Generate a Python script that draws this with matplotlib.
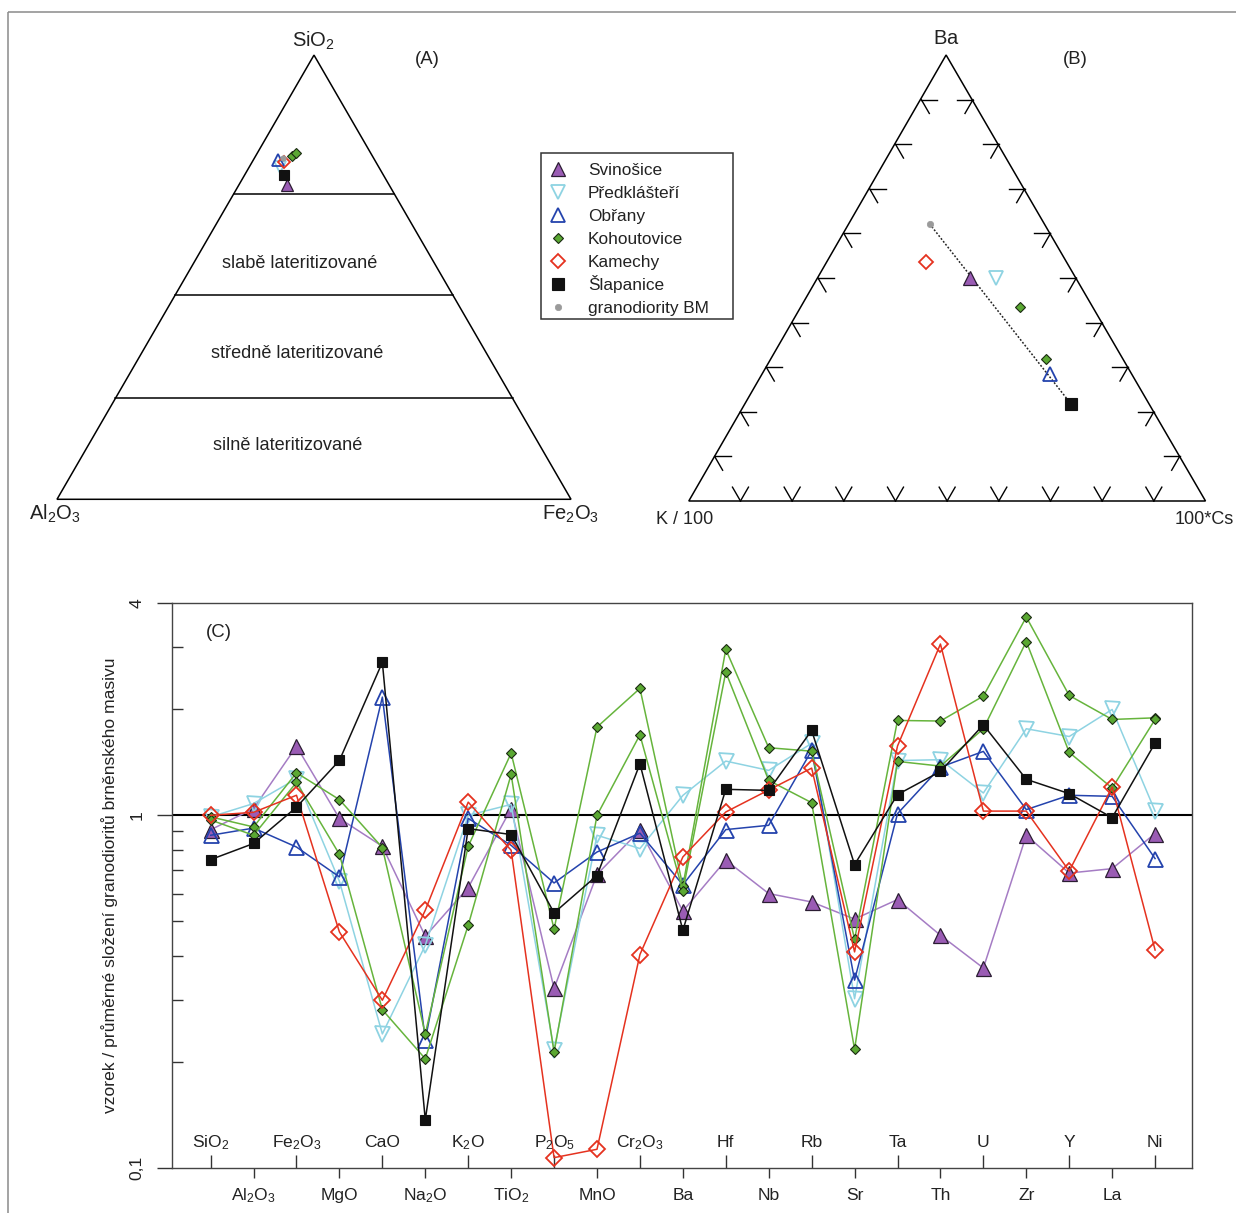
import numpy as np
import matplotlib
matplotlib.use('Agg')
import matplotlib.pyplot as plt
from matplotlib import font_manager
from matplotlib.patches import Rectangle, Polygon
import matplotlib.ticker as mticker
import matplotlib.transforms as mtransforms

avail = {f.name for f in font_manager.fontManager.ttflist}
HAS_NARROW = 'Liberation Sans Narrow' in avail
NARROW = 'Liberation Sans Narrow' if HAS_NARROW else 'Liberation Sans'
REG = 'Liberation Sans'
# narrow-font sizes are scaled down when only the regular width face is present
NS = 1.0 if HAS_NARROW else 0.85
plt.rcParams['font.family'] = [NARROW, 'DejaVu Sans']
plt.rcParams['mathtext.fontset'] = 'custom'
plt.rcParams['mathtext.rm'] = NARROW
plt.rcParams['mathtext.it'] = NARROW
plt.rcParams['mathtext.sf'] = REG

# ---------------- data ----------------
groups = ['Svinošice', 'Předklášteří', 'Obřany', 'Kohoutovice', 'Kamechy', 'Šlapanice', 'granodiority BM']

# (A) ternary SiO2 - Al2O3 - Fe2O3 (fractions)
tA_group = ['Svinošice', 'Předklášteří', 'Obřany', 'Kohoutovice', 'Kohoutovice', 'Kamechy', 'Šlapanice', 'granodiority BM']
tA_sio2 = [0.708, 0.749, 0.764, 0.774, 0.779, 0.759, 0.730, 0.769]
tA_al2o3 = [0.199, 0.192, 0.188, 0.156, 0.146, 0.178, 0.193, 0.175]
tA_fe2o3 = [0.093, 0.059, 0.048, 0.071, 0.075, 0.063, 0.077, 0.056]
zone_sio2 = [0.687, 0.460, 0.227]
zone_names = ['slabě lateritizované', 'středně lateritizované', 'silně lateritizované']

# (B) ternary Ba - K/100 - 100*Cs (fractions)
tB_group = ['granodiority BM', 'Kamechy', 'Svinošice', 'Předklášteří', 'Kohoutovice', 'Kohoutovice', 'Obřany', 'Šlapanice']
tB_ba = [0.6215, 0.535, 0.4996, 0.4996, 0.4339, 0.3188, 0.2857, 0.2184]
tB_k = [0.2233, 0.274, 0.2066, 0.1557, 0.1428, 0.1487, 0.1577, 0.1517]
tB_cs = [0.1552, 0.191, 0.2938, 0.3447, 0.4233, 0.5325, 0.5566, 0.6299]
tB_ticks = [0.1, 0.2, 0.3, 0.4, 0.5, 0.6, 0.7, 0.8, 0.9]

# (C) sample / mean composition of Brno massif granodiorites
categories = ['SiO$_2$', 'Al$_2$O$_3$', 'Fe$_2$O$_3$', 'MgO', 'CaO', 'Na$_2$O', 'K$_2$O', 'TiO$_2$',
              'P$_2$O$_5$', 'MnO', 'Cr$_2$O$_3$', 'Ba', 'Hf', 'Nb', 'Rb', 'Sr', 'Ta', 'Th', 'U', 'Zr',
              'Y', 'La', 'Ni']
svinosice = [0.91, 1.045, 1.57, 0.98, 0.817, 0.454, 0.624, 1.045, 0.323, 0.68, 0.907, 0.535,
             0.746, 0.600, 0.568, 0.508, 0.577, 0.457, 0.369, 0.878, 0.686, 0.706, 0.888]
predklasteri = [0.99, 1.08, 1.27, 0.65, 0.240, 0.428, 1.0, 1.074, 0.216, 0.878, 0.805, 1.139,
                1.425, 1.341, 1.6, 0.302, 1.43, 1.438, 1.157, 1.76, 1.673, 1.996, 1.028]
obrany = [0.878, 0.92, 0.813, 0.669, 2.164, 0.231, 0.98, 0.822, 0.643, 0.787, 0.89, 0.635,
          0.911, 0.937, 1.527, 0.341, 1.011, 1.37, 1.518, 1.038, 1.14, 1.132, 0.754]
kohoutovice_1 = [0.99, 0.927, 1.32, 1.108, 0.81, 0.240, 0.817, 1.501, 0.476, 1.779, 2.29, 0.63,
                 2.954, 1.555, 1.52, 0.445, 1.858, 1.851, 2.178, 3.65, 2.187, 1.87, 1.89]
kohoutovice_2 = [0.97, 0.878, 1.24, 0.775, 0.281, 0.204, 0.488, 1.307, 0.213, 1.0, 1.692, 0.61,
                 2.548, 1.256, 1.086, 0.217, 1.422, 1.379, 1.76, 3.11, 1.508, 1.195, 1.87]
kamechy = [1.0, 1.02, 1.14, 0.467, 0.299, 0.538, 1.09, 0.796, 0.107, 0.113, 0.403, 0.762,
           1.022, 1.18, 1.361, 0.41, 1.572, 3.06, 1.028, 1.028, 0.695, 1.203, 0.415]
slapanice = [0.749, 0.832, 1.055, 1.431, 2.716, 0.137, 0.917, 0.882, 0.529, 0.675, 1.40, 0.472,
             1.185, 1.177, 1.741, 0.725, 1.145, 1.332, 1.806, 1.265, 1.152, 0.985, 1.603]
seriesC = [('Svinošice', svinosice), ('Předklášteří', predklasteri), ('Obřany', obrany),
           ('Kohoutovice', kohoutovice_1), ('Kohoutovice', kohoutovice_2),
           ('Kamechy', kamechy), ('Šlapanice', slapanice)]
y_labels = [(0.1, '0,1'), (1, '1'), (4, '4')]
y_minor = [0.2, 0.3, 0.4, 0.5, 0.6, 0.7, 0.8, 0.9, 2, 3]

# ---------------- styles ----------------
PURPLE_F, PURPLE_L = '#9a5cb4', '#a57cc4'
CYAN = '#8ed3e2'
BLUE = '#2443ad'
GREEN_F, GREEN_L = '#5aa832', '#66b43c'
RED = '#e5321f'
BLACK = '#111111'
TXT = '#222222'
style = {
    'Svinošice': dict(marker='^', mfc=PURPLE_F, mec='#2b1d33', lc=PURPLE_L, ms=10.0, mew=0.9),
    'Předklášteří': dict(marker='v', mfc='none', mec=CYAN, lc=CYAN, ms=10.0, mew=1.3),
    'Obřany': dict(marker='^', mfc='none', mec=BLUE, lc=BLUE, ms=10.0, mew=1.3),
    'Kohoutovice': dict(marker='D', mfc=GREEN_F, mec='#1a2a12', lc=GREEN_L, ms=5.6, mew=0.8),
    'Kamechy': dict(marker='D', mfc='none', mec=RED, lc=RED, ms=7.3, mew=1.3),
    'Šlapanice': dict(marker='s', mfc=BLACK, mec=BLACK, lc=BLACK, ms=8.0, mew=0.8),
    'granodiority BM': dict(marker='o', mfc='#9a9a9a', mec='#9a9a9a', lc='#9a9a9a', ms=4.6, mew=0.5),
}

W, H = 1236, 1213
fig = plt.figure(figsize=(W / 100, H / 100), dpi=100)
fig.patch.set_facecolor('white')

# overlay axes in pixel coordinates (y downward)
ov = fig.add_axes([0, 0, 1, 1])
ov.set_xlim(0, W)
ov.set_ylim(H, 0)
ov.axis('off')

# figure frame (top & left visible)
ov.plot([8, W + 5], [12, 12], color='#8a8a8a', lw=1.1, solid_capstyle='butt')
ov.plot([8, 8], [12, H + 5], color='#8a8a8a', lw=1.1, solid_capstyle='butt')

# ---------------- (A) ----------------
A_l, A_r, A_t = (57.0, 499.3), (571.0, 499.3), (314.0, 55.1)
A_w, A_h = A_r[0] - A_l[0], A_l[1] - A_t[1]


def projA(si, al, fe):
    tot = si + al + fe
    si, fe = si / tot, fe / tot
    return A_l[0] + (fe + si / 2) * A_w, A_l[1] - si * A_h


ov.add_patch(Polygon([A_l, A_r, A_t], closed=True, fill=False, ec='black', lw=1.1, joinstyle='miter'))
for s in zone_sio2:
    x0, y0 = projA(s, 1 - s, 0)
    x1, y1 = projA(s, 0, 1 - s)
    ov.plot([x0, x1], [y0, y1], color='black', lw=1.1)
zone_txt = [(300, 268.5), (297, 358), (288, 450.4)]
for (tx, ty), name in zip(zone_txt, zone_names):
    ov.text(tx, ty, name, ha='center', va='baseline', fontsize=15.4 * NS, color=TXT)
ov.text(313, 41, r'$\mathsf{SiO_2}$', ha='center', va='center', fontsize=14.5, color=TXT)
ov.text(55, 514, r'$\mathsf{Al_2O_3}$', ha='center', va='center', fontsize=14.5, color=TXT)
ov.text(571, 514, r'$\mathsf{Fe_2O_3}$', ha='center', va='center', fontsize=14.5, color=TXT)
ov.text(427, 59, '(A)', ha='center', va='center', fontsize=15.8 * NS, color=TXT)

scaleA = 0.85
for g, si, al, fe in zip(tA_group, tA_sio2, tA_al2o3, tA_fe2o3):
    st = style[g]
    x, y = projA(si, al, fe)
    ov.plot([x], [y], ls='none', marker=st['marker'], mfc=st['mfc'], mec=st['mec'],
            ms=st['ms'] * scaleA, mew=st['mew'])

# ---------------- (B) ----------------
B_l, B_r, B_t = (688.8, 501.0), (1205.5, 501.0), (946.1, 55.0)
B_w, B_h = B_r[0] - B_l[0], B_l[1] - B_t[1]


def projB(ba, k, cs):
    tot = ba + k + cs
    ba, cs = ba / tot, cs / tot
    return B_l[0] + (cs + ba / 2) * B_w, B_l[1] - ba * B_h


ov.add_patch(Polygon([B_l, B_r, B_t], closed=True, fill=False, ec='black', lw=1.1, joinstyle='miter'))
L = 16.0
c60, s60 = 0.5, np.sqrt(3) / 2
for t in tB_ticks:
    px, py = projB(t, 1 - t, 0)          # left edge
    ov.plot([px, px + L], [py, py], color='black', lw=1.0)
    ov.plot([px, px + L * c60], [py, py + L * s60], color='black', lw=1.0)
    px, py = projB(t, 0, 1 - t)          # right edge
    ov.plot([px, px - L], [py, py], color='black', lw=1.0)
    ov.plot([px, px - L * c60], [py, py + L * s60], color='black', lw=1.0)
    px, py = projB(0, 1 - t, t)          # bottom edge
    ov.plot([px, px - L * c60], [py, py - L * s60], color='black', lw=1.0)
    ov.plot([px, px + L * c60], [py, py - L * s60], color='black', lw=1.0)

gx, gy = projB(tB_ba[0], tB_k[0], tB_cs[0])
sx, sy = projB(tB_ba[-1], tB_k[-1], tB_cs[-1])
ov.plot([gx, sx], [gy, sy], color='#222222', lw=1.1, ls=(0, (1.2, 1.2)))

for g, ba, k, cs in zip(tB_group, tB_ba, tB_k, tB_cs):
    st = style[g]
    x, y = projB(ba, k, cs)
    ov.plot([x], [y], ls='none', marker=st['marker'], mfc=st['mfc'], mec=st['mec'],
            ms=st['ms'], mew=st['mew'])

ov.text(946, 39, r'$\mathsf{Ba}$', ha='center', va='center', fontsize=14.5, color=TXT)
ov.text(685, 519, 'K / 100', ha='center', va='center', fontsize=15.3 * NS, color=TXT)
ov.text(1204, 519, '100*Cs', ha='center', va='center', fontsize=15.3 * NS, color=TXT)
ov.text(1075, 59, '(B)', ha='center', va='center', fontsize=15.8 * NS, color=TXT)

# ---------------- legend ----------------
ov.add_patch(Rectangle((541, 152.5), 192, 166, fill=False, ec='#333333', lw=1.1))
for i, g in enumerate(groups):
    st = style[g]
    yy = 169.4 + i * 22.95
    ov.plot([557.5], [yy], ls='none', marker=st['marker'], mfc=st['mfc'], mec=st['mec'],
            ms=st['ms'], mew=st['mew'])
    ov.text(588, yy + 6, g, ha='left', va='baseline', fontsize=14.6 * NS, color=TXT)

# ---------------- (C) ----------------
axC = fig.add_axes([172 / W, 1 - 1168 / H, (1192 - 172) / W, (1168 - 603) / H])
axC.set_facecolor('none')
xs = np.arange(1, len(categories) + 1)
axC.set_yscale('log')
axC.set_ylim(0.1, 4)
axC.set_xlim(0.1, 23.86)
axC.axhline(1, color='black', lw=1.5, zorder=1)

scaleC = {'^': 1.08, 'v': 1.08, 'D': 1.0, 's': 0.95}
for g, vals in seriesC:
    st = style[g]
    msz = st['ms'] * scaleC.get(st['marker'], 1.0)
    if g == 'Kamechy':
        msz = 8.4
    axC.plot(xs, vals, color=st['lc'], lw=1.1, marker=st['marker'], mfc=st['mfc'],
             mec=st['mec'], ms=msz, mew=st['mew'], zorder=3)

for sp in axC.spines.values():
    sp.set_color('#444444')
    sp.set_linewidth(1.0)

axC.xaxis.set_major_locator(mticker.FixedLocator(xs[1::2]))
axC.xaxis.set_minor_locator(mticker.FixedLocator(xs[0::2]))
axC.xaxis.set_major_formatter(mticker.NullFormatter())
axC.xaxis.set_minor_formatter(mticker.NullFormatter())
axC.tick_params(axis='x', which='major', direction='out', length=7.5, width=1.0, color='#333333')
axC.tick_params(axis='x', which='minor', direction='in', length=9.4, width=1.0, color='#333333')
trans_x = mtransforms.blended_transform_factory(axC.transData, axC.transAxes)
for i, lab in enumerate(categories):
    if i % 2 == 0:
        axC.text(xs[i], 21 / 565, lab, transform=trans_x, ha='center', va='baseline',
                 fontsize=14.8 * NS, color=TXT)
    else:
        axC.text(xs[i], -32 / 565, lab, transform=trans_x, ha='center', va='baseline',
                 fontsize=14.8 * NS, color=TXT, clip_on=False)

axC.yaxis.set_major_locator(mticker.FixedLocator([v for v, _ in y_labels]))
axC.yaxis.set_minor_locator(mticker.FixedLocator(y_minor))
axC.yaxis.set_major_formatter(mticker.NullFormatter())
axC.yaxis.set_minor_formatter(mticker.NullFormatter())
axC.tick_params(axis='y', which='major', direction='out', length=10.8, width=1.0, color='#333333')
axC.tick_params(axis='y', which='minor', direction='in', length=7.7, width=1.0, color='#333333')
trans_y = mtransforms.blended_transform_factory(axC.transAxes, axC.transData)
for v, lab in y_labels:
    axC.text(-35 / 1020, v, lab, transform=trans_y, rotation=90, ha='center', va='center',
             fontsize=14.8 * NS, color=TXT, clip_on=False)
axC.text(-62 / 1020, 0.5, 'vzorek / průměrné složení granodioritů brněnského masivu',
         transform=axC.transAxes, rotation=90, ha='center', va='center', fontsize=14.8 * NS,
         color=TXT)
axC.text(47 / 1020, 1 - 29 / 565, '(C)', transform=axC.transAxes, ha='center', va='center',
         fontsize=15.8 * NS, color=TXT)

fig.savefig('out.png', dpi=100, facecolor='white')
